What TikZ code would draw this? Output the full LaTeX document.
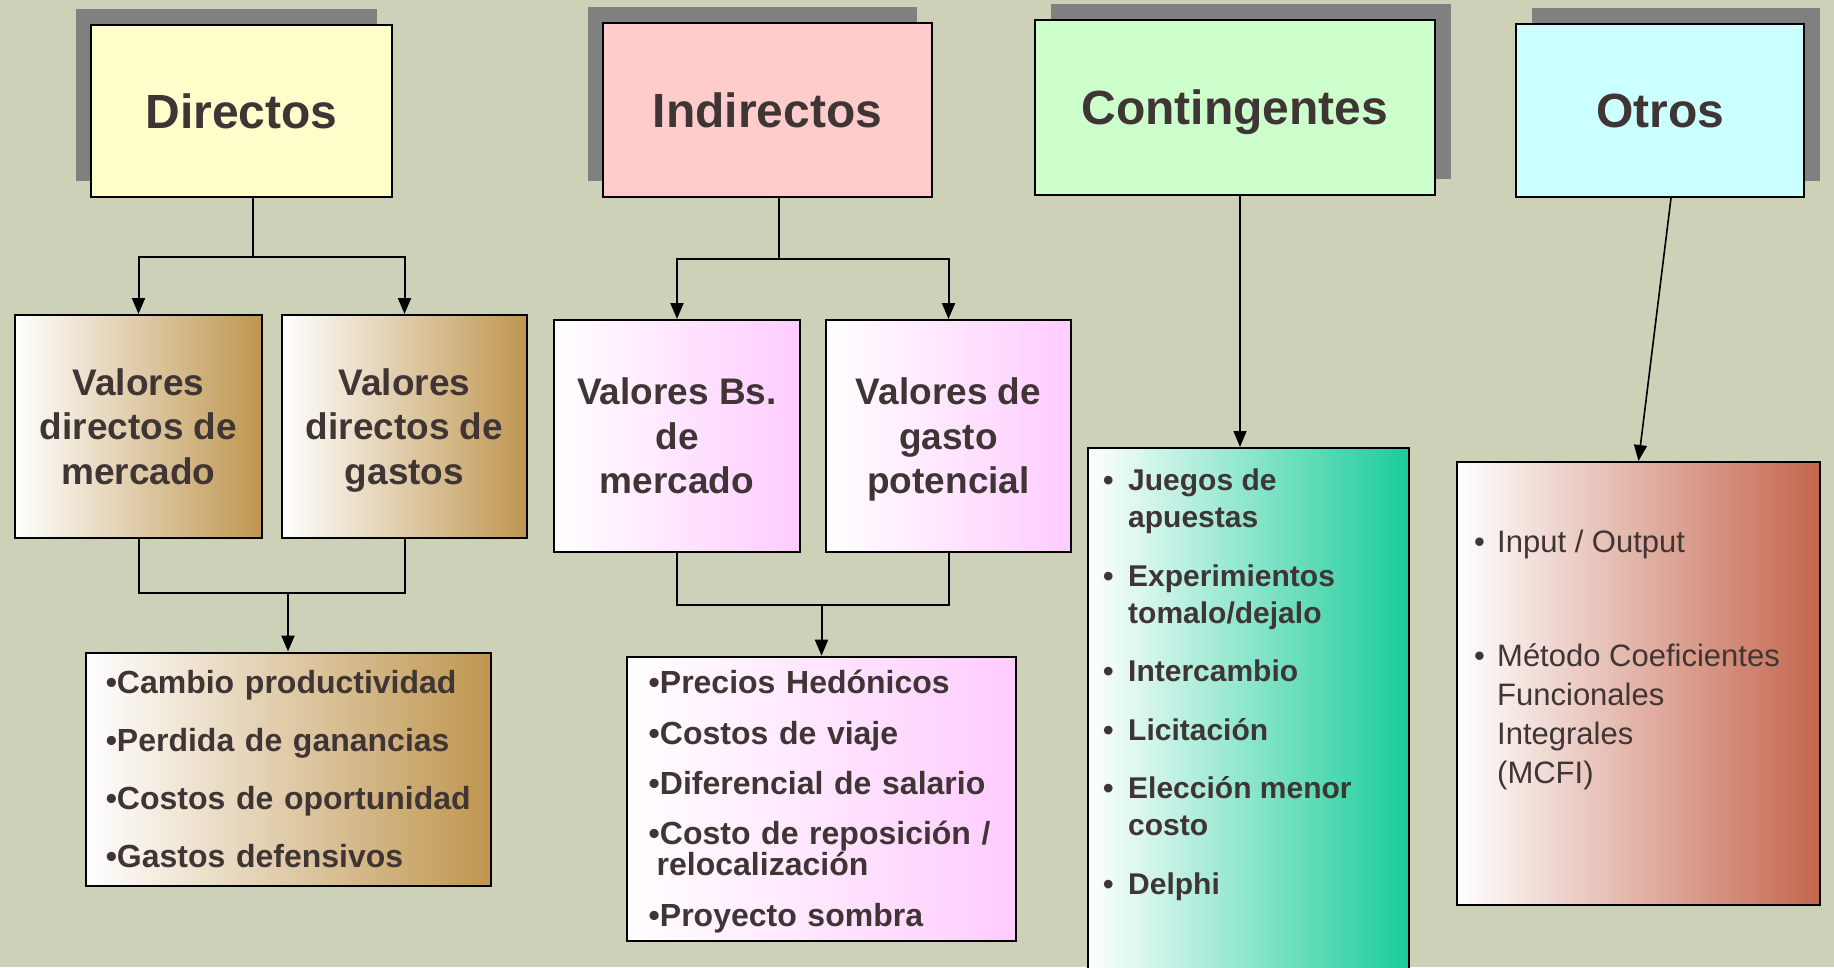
\documentclass[tikz,border=0pt]{standalone}
\usepackage{fontspec}
\setmainfont{Liberation Sans}
\usepackage{tikz}
\usetikzlibrary{positioning}
\usetikzlibrary{shadows}
\usetikzlibrary{arrows.meta}
\definecolor{bgcolor}{RGB}{204,209,184}
\definecolor{shadowgray}{RGB}{128,128,128}
\definecolor{textbrown}{RGB}{64,53,53}
\definecolor{dirfill}{RGB}{255,255,204}
\definecolor{indfill}{RGB}{255,204,204}
\definecolor{contfill}{RGB}{204,255,204}
\definecolor{otrfill}{RGB}{204,255,255}
\definecolor{dirshade}{RGB}{191,150,80}
\definecolor{indshade}{RGB}{255,204,255}
\definecolor{contshade}{RGB}{25,204,153}
\definecolor{otrshade}{RGB}{196,102,78}
\setlength{\lineskiplimit}{-100pt}
\tikzset{titlebox/.style={rectangle, draw=black, line width=2pt, text=textbrown, text depth=0pt, font=\fontsize{48}{58}\selectfont\bfseries}}
\tikzset{shadowleft/.style={drop shadow={shadow xshift=-15pt, shadow yshift=16pt, fill=shadowgray, opacity=1}}}
\tikzset{shadowright/.style={drop shadow={shadow xshift=16pt, shadow yshift=16pt, fill=shadowgray, opacity=1}}}
\tikzset{valuebox/.style={rectangle, draw=black, line width=2pt, text=textbrown, align=center, text depth=0pt, font=\fontsize{37}{44.5}\selectfont\bfseries}}
\tikzset{listbox/.style={rectangle, draw=black, line width=2pt, text=textbrown}}
\tikzset{link/.style={black, line width=2pt}}
\tikzset{arrowlink/.style={link, -{Triangle[length=16pt, width=13pt]}}}
\tikzset{thinarrow/.style={black, line width=1.6pt, -{Triangle[length=16pt, width=13pt]}}}
\newcommand{\itemdot}[1]{\makebox[#1][l]{•}}

\begin{document}
\begin{tikzpicture}[x=1pt, y=-1pt]
        \useasboundingbox (0,0) rectangle (1834,967);
        \clip (0,0) rectangle (1834,967);
        \fill[bgcolor] (0,0) rectangle (1834,967);

        \node [titlebox, shadowleft, fill=dirfill, minimum width=301pt, minimum height=172pt](directos) at (241.5,111) {Directos};
        \node [titlebox, shadowleft, fill=indfill, minimum width=329pt, minimum height=174pt](indirectos) at (767.5,110) {Indirectos};
        \node [titlebox, shadowright, fill=contfill, minimum width=400pt, minimum height=175pt](contingentes) at (1235,107.5) {Contingentes};
        \node [titlebox, shadowright, fill=otrfill, minimum width=288pt, minimum height=173pt](otros) at (1660,110.5) {Otros};

        \node [valuebox, left color=white, right color=dirshade, minimum width=247pt, minimum height=223pt](dmercado) at (138.5,426.5) {Valores\\directos de\\mercado};
        \node [valuebox, left color=white, right color=dirshade, minimum width=245pt, minimum height=223pt](dgastos) at (404.5,426.5) {Valores\\directos de\\gastos};
        \node [valuebox, left color=white, right color=indshade, minimum width=246pt, minimum height=232pt](imercado) at (677,436) {Valores Bs.\\de\\mercado};
        \node [valuebox, left color=white, right color=indshade, minimum width=245pt, minimum height=232pt](igasto) at (948.5,436) {Valores de\\gasto\\potencial};

        \node [listbox, left color=white, right color=dirshade, minimum width=405pt, minimum height=233pt, text width=365pt, inner xsep=20pt, align=left, font=\fontsize{32}{58}\selectfont\bfseries](dlist) at (288.25,769) {•Cambio productividad\\•Perdida de ganancias\\•Costos de oportunidad\\•Gastos defensivos};
        \node [listbox, left color=white, right color=indshade, minimum width=389pt, minimum height=284pt, text width=345pt, inner xsep=22pt, align=left, font=\fontsize{32}{30}\selectfont\bfseries](ilist) at (821.2,798.7) {\rule{0pt}{29pt}•Precios Hedónicos\\[20.3pt]•Costos de viaje\\[20.3pt]•Diferencial de salario\\[20.3pt]•Costo de reposición /\\\hspace*{8pt}relocalización\\[20.3pt]•Proyecto sombra};
        \node [listbox, left color=white, right color=contshade, minimum width=321pt, minimum height=550pt](clist) at (1248.5,723) {};
        \node [text=textbrown, anchor=north west, inner sep=0pt, align=left, font=\fontsize{30}{37}\selectfont\bfseries](clisttext) at (1103,469) {\itemdot{25pt}Juegos de\\\hspace*{25pt}apuestas\\[21.5pt]\itemdot{25pt}Experimientos\\\hspace*{25pt}tomalo/dejalo\\[21.5pt]\itemdot{25pt}Intercambio\\[21.5pt]\itemdot{25pt}Licitación\\[21.5pt]\itemdot{25pt}Elección menor\\\hspace*{25pt}costo\\[21.5pt]\itemdot{25pt}Delphi};
        \node [listbox, left color=white, right color=otrshade, minimum width=363pt, minimum height=443pt](olist) at (1638.5,683.5) {};
        \node [text=textbrown, anchor=north west, inner sep=0pt, align=left, font=\fontsize{31}{39}\selectfont](olisttext) at (1474,530) {\itemdot{23pt}Input / Output\\[75pt]\itemdot{23pt}Método Coeficientes\\\hspace*{23pt}Funcionales\\\hspace*{23pt}Integrales\\\hspace*{23pt}(MCFI)};

        \coordinate (dsplit) at (252.5,257);
        \coordinate (dmerge) at (288,593);
        \coordinate (isplit) at (779,259);
        \coordinate (imerge) at (821.5,604.5);
        \coordinate (cstem) at ([xshift=5pt]contingentes.south);
        \coordinate (ostem) at ([xshift=11pt]otros.south);

        \draw [link] (directos.south -| dsplit) -- (dsplit);
        \draw [arrowlink] (dsplit) -| (dmercado);
        \draw [arrowlink] (dsplit) -| (dgastos);
        \draw [link] (dmercado) |- (dmerge);
        \draw [link] (dgastos) |- (dmerge);
        \draw [arrowlink] (dmerge) -- (dmerge |- dlist.north);

        \draw [link] (indirectos.south -| isplit) -- (isplit);
        \draw [arrowlink] (isplit) -| (imercado);
        \draw [arrowlink] (isplit) -| (igasto);
        \draw [link] (imercado) |- (imerge);
        \draw [link] (igasto) |- (imerge);
        \draw [arrowlink] (imerge) -- (imerge |- ilist.north);

        \draw [thinarrow] (cstem) -- (cstem |- clist.north);
        \draw [thinarrow] (ostem) -- (olist.north);
\end{tikzpicture}
\end{document}
